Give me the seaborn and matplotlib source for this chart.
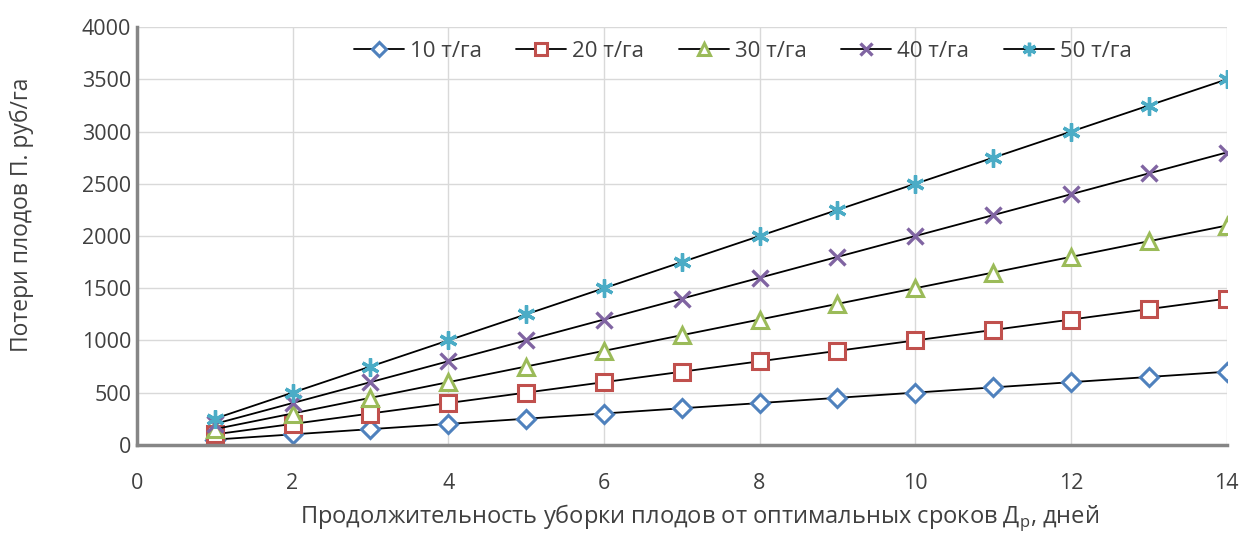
import matplotlib
matplotlib.use("Agg")
import matplotlib.pyplot as plt
import seaborn as sns
import pandas as pd

days = [1, 2, 3, 4, 5, 6, 7, 8, 9, 10, 11, 12, 13, 14]
s10 = [50, 100, 150, 200, 250, 300, 350, 400, 450, 500, 550, 600, 650, 700]
s20 = [100, 200, 300, 400, 500, 600, 700, 800, 900, 1000, 1100, 1200, 1300, 1400]
s30 = [150, 300, 450, 600, 750, 900, 1050, 1200, 1350, 1500, 1650, 1800, 1950, 2100]
s40 = [200, 400, 600, 800, 1000, 1200, 1400, 1600, 1800, 2000, 2200, 2400, 2600, 2800]
s50 = [250, 500, 750, 1000, 1250, 1500, 1750, 2000, 2250, 2500, 2750, 3000, 3250, 3500]
labels = ["10 т/га", "20 т/га", "30 т/га", "40 т/га", "50 т/га"]
series = [s10, s20, s30, s40, s50]

sns.set_theme(style="white")
plt.rcParams['font.family'] = ['Open Sans', 'DejaVu Sans']

fig = plt.figure(figsize=(12.44, 5.34), dpi=100)
ax = fig.add_axes([0.110, 0.167, 0.876, 0.782])

styles = [
    dict(marker="D", mfc="white", mec="#4F81BD", ms=9, mew=2.2),
    dict(marker="s", mfc="white", mec="#C0504D", ms=11, mew=2.2),
    dict(marker="^", mfc="white", mec="#9BBB59", ms=12, mew=2.2),
    dict(marker="x", mfc="#8064A2", mec="#8064A2", ms=11, mew=2.4),
    dict(marker=(6, 2, 0), mfc="#4BACC6", mec="#4BACC6", ms=13, mew=2.4),
]

for lab, vals, st in zip(labels, series, styles):
    df = pd.DataFrame({"x": days, "y": vals})
    sns.lineplot(data=df, x="x", y="y", ax=ax, color="black", lw=1.3,
                 marker=st["marker"], markerfacecolor=st["mfc"],
                 markeredgecolor=st["mec"], markersize=st["ms"],
                 markeredgewidth=st["mew"], label=lab)

ax.set_xlim(0, 14)
ax.set_ylim(0, 4000)
ax.set_xticks(range(0, 15, 2))
ax.set_yticks(range(0, 4001, 500))
ax.grid(True, color="#D9D9D9", lw=1)
ax.set_axisbelow(True)
for s in ["top", "right"]:
    ax.spines[s].set_visible(False)
for s in ["left", "bottom"]:
    ax.spines[s].set_color("#868686")
    ax.spines[s].set_linewidth(2.5)
ax.tick_params(axis="both", labelsize=15.5, colors="#404040", length=0)
ax.tick_params(axis="x", pad=20)
ax.tick_params(axis="y", pad=4)

ax.set_xlabel("Продолжительность уборки плодов от оптимальных сроков Д$_{\\mathregular{р}}$, дней",
              fontsize=17, color="#404040")
ax.xaxis.set_label_coords(0.5165, -0.138)
ax.set_ylabel("Потери плодов П. руб/га", fontsize=16.5, color="#404040")
ax.yaxis.set_label_coords(-0.094, 0.55)

handles, labs = ax.get_legend_handles_labels()
leg = ax.legend(handles, labs, loc="upper center", bbox_to_anchor=(0.556, 1.0), ncol=5,
                frameon=False, fontsize=16, handlelength=2.25, columnspacing=1.55,
                handletextpad=0.27, markerscale=0.75, borderaxespad=0.2)
for t in leg.get_texts():
    t.set_color("#404040")

fig.savefig("out.png", dpi=100)
